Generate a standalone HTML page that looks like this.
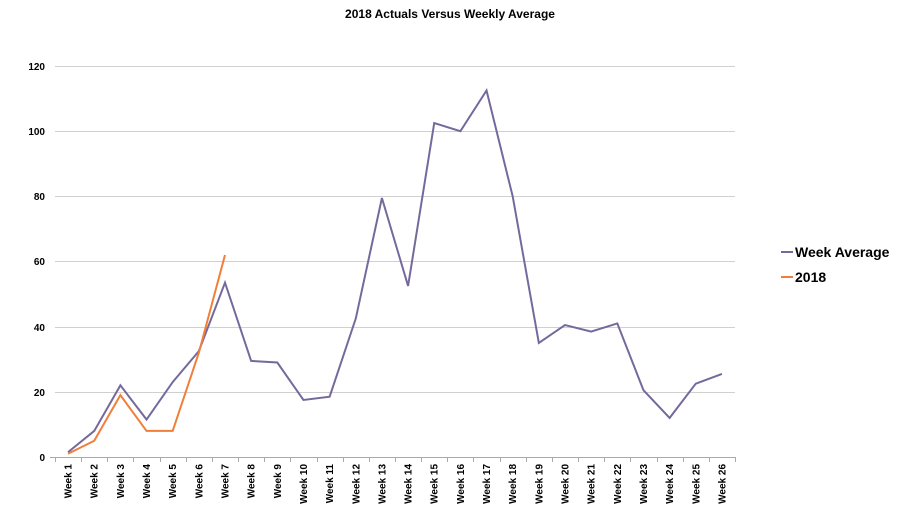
<!DOCTYPE html>
<html><head><meta charset="utf-8"><style>body{margin:0;background:#fff}</style></head>
<body>
<svg width="900" height="505" xmlns="http://www.w3.org/2000/svg" font-family="Liberation Sans, sans-serif">
<text x="450" y="18" text-anchor="middle" font-size="12" font-weight="bold">2018 Actuals Versus Weekly Average</text>
<g stroke="#d0d0d0" stroke-width="1">
<line x1="55" x2="735" y1="66.5" y2="66.5"/>
<line x1="55" x2="735" y1="131.5" y2="131.5"/>
<line x1="55" x2="735" y1="196.5" y2="196.5"/>
<line x1="55" x2="735" y1="261.5" y2="261.5"/>
<line x1="55" x2="735" y1="327.5" y2="327.5"/>
<line x1="55" x2="735" y1="392.5" y2="392.5"/>
<line x1="50" x2="735" y1="457.5" y2="457.5" stroke="#aaa"/>
</g>
<g font-size="10" font-weight="bold" text-anchor="end">
<text x="45" y="70">120</text><text x="45" y="135">100</text><text x="45" y="200">80</text>
<text x="45" y="265">60</text><text x="45" y="331">40</text><text x="45" y="396">20</text><text x="45" y="461">0</text>
</g>
<g id="ticks" stroke="#aaa"></g>
<g id="labels" font-size="10" font-weight="bold"></g>
<polyline id="avg" fill="none" stroke="#75699c" stroke-width="2"/>
<polyline id="y18" fill="none" stroke="#f07f3a" stroke-width="2"/>
<line x1="781" x2="793" y1="252" y2="252" stroke="#75699c" stroke-width="2"/>
<text x="795" y="257" font-size="14" font-weight="bold">Week Average</text>
<line x1="781" x2="793" y1="277" y2="277" stroke="#f07f3a" stroke-width="2"/>
<text x="795" y="282" font-size="14" font-weight="bold">2018</text>
</svg>
<script>
var a=[1.5,8,22,11.5,23,32.5,53.5,29.5,29,17.5,18.5,42.5,79.5,52.5,102.5,100,112.5,80,35,40.5,38.5,41,20.5,12,22.5,25.5];
var b=[1,5,19,8,8,32,62];
var w=680/26;function X(i){return 55+w/2+i*w}function Y(v){return 457-v*3.258}
document.getElementById('avg').setAttribute('points',a.map((v,i)=>X(i)+','+Y(v)).join(' '));
document.getElementById('y18').setAttribute('points',b.map((v,i)=>X(i)+','+Y(v)).join(' '));
var t='',l='';
for(var i=0;i<=26;i++){var x=Math.round(55+i*w)+.5;t+='<line x1="'+x+'" x2="'+x+'" y1="457" y2="462"/>';}
for(var i=0;i<26;i++){var x=X(i)+3.5;l+='<text transform="translate('+x+',464) rotate(-90)" text-anchor="end">Week '+(i+1)+'</text>';}
document.getElementById('ticks').innerHTML=t;document.getElementById('labels').innerHTML=l;
</script>
</body></html>
